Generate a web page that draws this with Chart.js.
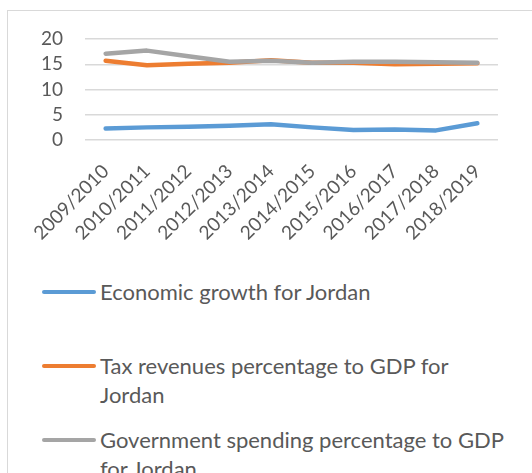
<!DOCTYPE html>
<html>
<head>
<meta charset="utf-8">
<script src="https://cdn.jsdelivr.net/npm/chart.js@4/dist/chart.umd.min.js"></script>
<style>
  html, body { margin: 0; padding: 0; background: #fff; overflow: hidden; width: 532px; height: 473px; }
  #frame { position: absolute; left: 7px; top: 10px; width: 600px; height: 600px; border: 1px solid #d9d9d9; box-sizing: border-box; }
  #plot { position: absolute; left: 0; top: 0; width: 532px; height: 260px; }
  #legend { position: absolute; left: 42px; top: 277px; width: 480px; font-family: Lato, sans-serif; font-size: 22px; color: #595959; }
  .item { display: flex; align-items: flex-start; height: 74px; }
  .swatch { flex: 0 0 54px; height: 4px; border-radius: 2px; margin-top: 12.5px; margin-right: 4px; }
  .label { line-height: 29px; max-width: 408px; }
</style>
</head>
<body>
<div id="frame"></div>
<div id="plot"><canvas id="chart" width="532" height="260"></canvas></div>
<div id="legend"></div>
<script>
// Fiscal years on the horizontal axis
const categories = ['2009/2010', '2010/2011', '2011/2012', '2012/2013', '2013/2014',
                    '2014/2015', '2015/2016', '2016/2017', '2017/2018', '2018/2019'];

// Series values (percent)
const economicGrowth = [2.3, 2.5, 2.6, 2.8, 3.1, 2.5, 2.0, 2.1, 1.9, 3.3];
const taxRevenues    = [15.7, 14.8, 15.1, 15.3, 15.8, 15.3, 15.3, 15.0, 15.1, 15.2];
const govSpending    = [17.1, 17.7, 16.6, 15.5, 15.7, 15.3, 15.5, 15.5, 15.4, 15.3];

// Series names
const seriesNames = [
  'Economic growth for Jordan',
  'Tax revenues percentage to GDP for Jordan',
  'Government spending percentage to GDP for Jordan'
];

// Value axis ticks
const yTicks = [0, 5, 10, 15, 20];

const colors = ['#5B9BD5', '#ED7D31', '#A5A5A5'];
const textColor = '#595959';
const font = { family: 'Lato, sans-serif', size: 19 };

function lineSet(label, data, color, order) {
  return {
    label, data,
    borderColor: color,
    backgroundColor: color,
    borderWidth: 4.5,
    borderCapStyle: 'round',
    borderJoinStyle: 'round',
    pointRadius: 0,
    pointHoverRadius: 0,
    tension: 0,
    fill: false,
    order
  };
}

const chart = new Chart(document.getElementById('chart'), {
  type: 'line',
  data: {
    labels: categories,
    datasets: [
      lineSet(seriesNames[0], economicGrowth, colors[0], 2),
      lineSet(seriesNames[1], taxRevenues, colors[1], 1),
      lineSet(seriesNames[2], govSpending, colors[2], 0)
    ]
  },
  options: {
    responsive: false,
    animation: false,
    layout: { padding: { left: 7, right: 34, top: 39, bottom: 0 } },
    plugins: { legend: { display: false }, tooltip: { enabled: false } },
    scales: {
      x: {
        offset: true,
        grid: { display: false, drawTicks: false },
        border: { display: false },
        ticks: { color: textColor, font, minRotation: 45, maxRotation: 45, padding: 20, autoSkip: false },
        afterFit: s => { s.height = 120; }
      },
      y: {
        min: yTicks[0],
        max: yTicks[yTicks.length - 1],
        afterBuildTicks: s => { s.ticks = yTicks.map(v => ({ value: v })); },
        grid: { color: '#d9d9d9', lineWidth: 1.5, drawTicks: false },
        border: { display: false },
        ticks: { color: textColor, font, padding: 22, autoSkip: false },
        afterFit: s => { s.width = 78; }
      }
    }
  }
});

// Legend below the plot, built from the chart's datasets
const legendEl = document.getElementById('legend');
chart.data.datasets.forEach(ds => {
  const item = document.createElement('div');
  item.className = 'item';
  const sw = document.createElement('span');
  sw.className = 'swatch';
  sw.style.background = ds.borderColor;
  const lab = document.createElement('span');
  lab.className = 'label';
  lab.textContent = ds.label;
  item.appendChild(sw);
  item.appendChild(lab);
  legendEl.appendChild(item);
});
</script>
</body>
</html>
